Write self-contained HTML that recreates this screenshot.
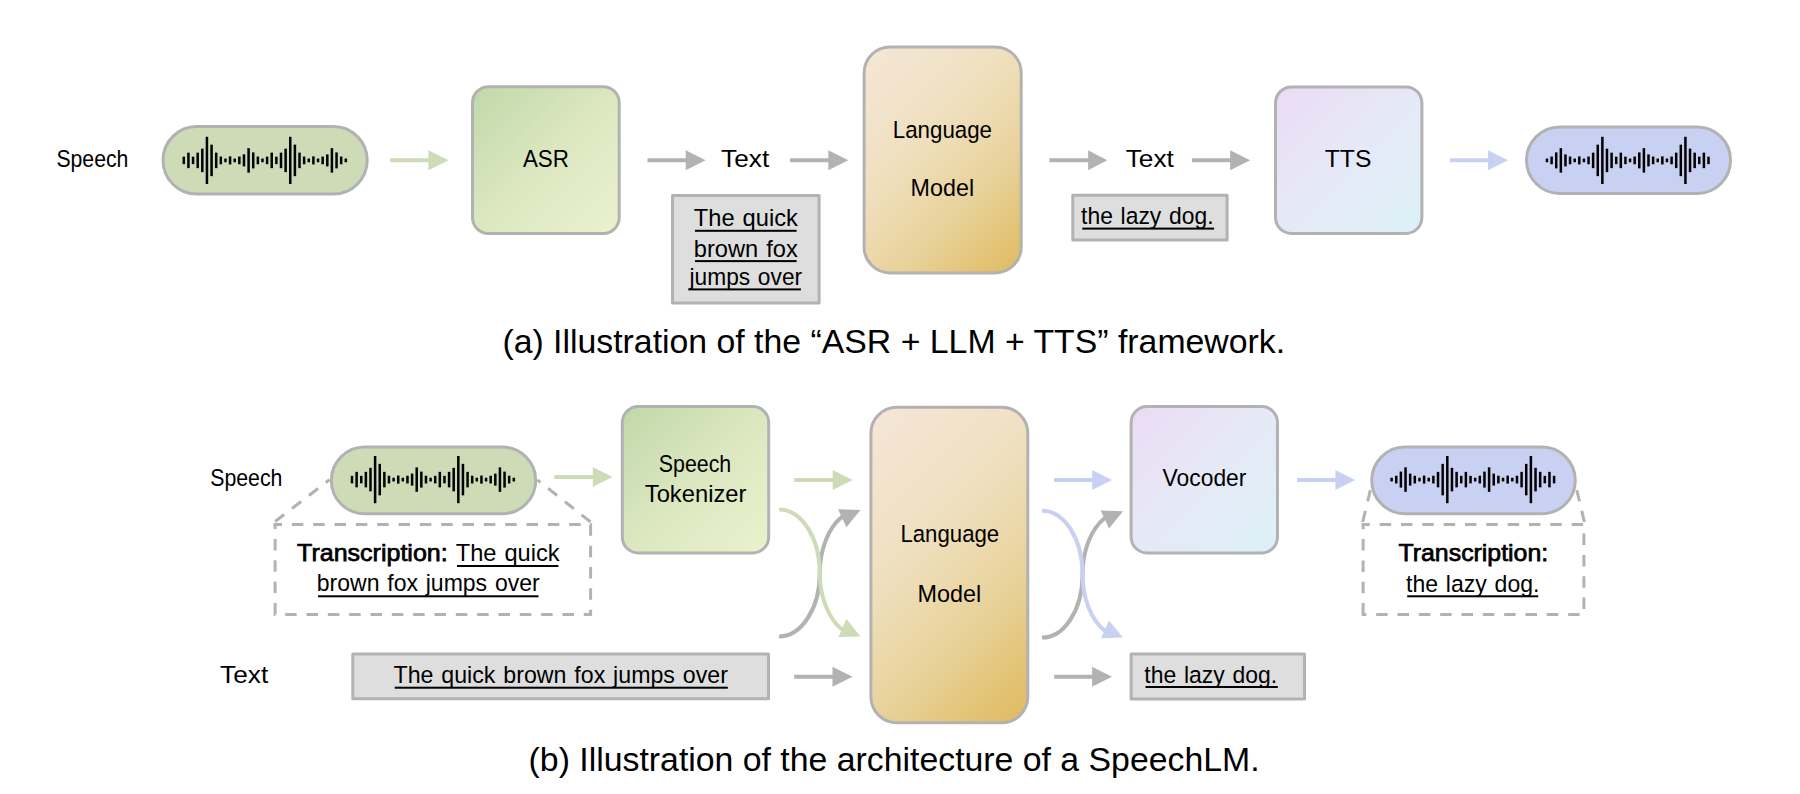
<!DOCTYPE html><html><head><meta charset="utf-8"><style>html,body{margin:0;padding:0;background:#fff;width:1800px;height:794px;overflow:hidden}svg{display:block}text{font-family:"Liberation Sans",sans-serif;fill:#000}</style></head><body>
<svg width="1800" height="794" viewBox="0 0 1800 794">
<text x="56.40" y="167.30" font-size="24.5" font-weight="normal" textLength="72.00" lengthAdjust="spacingAndGlyphs" word-spacing="1.5">Speech</text>
<rect x="163.00" y="126.50" width="204.20" height="67.60" rx="33.80" fill="#cddbb6" stroke="#b2b2b2" stroke-width="3.0"/>
<g fill="#000"><rect x="182.55" y="156.65" width="2.5" height="7.50"/><rect x="187.18" y="152.65" width="2.5" height="15.50"/><rect x="191.81" y="156.65" width="2.5" height="7.50"/><rect x="196.44" y="152.65" width="2.5" height="15.50"/><rect x="201.06" y="148.65" width="2.5" height="23.50"/><rect x="205.69" y="136.80" width="2.5" height="47.20"/><rect x="210.32" y="144.65" width="2.5" height="31.50"/><rect x="214.95" y="152.65" width="2.5" height="15.50"/><rect x="219.58" y="156.55" width="2.5" height="7.70"/><rect x="224.21" y="158.55" width="2.5" height="3.70"/><rect x="228.84" y="156.40" width="2.5" height="8.00"/><rect x="233.46" y="158.55" width="2.5" height="3.70"/><rect x="238.09" y="156.55" width="2.5" height="7.70"/><rect x="242.72" y="154.40" width="2.5" height="12.00"/><rect x="247.35" y="148.15" width="2.5" height="24.50"/><rect x="251.98" y="152.40" width="2.5" height="16.00"/><rect x="256.61" y="156.55" width="2.5" height="7.70"/><rect x="261.24" y="158.55" width="2.5" height="3.70"/><rect x="265.86" y="156.65" width="2.5" height="7.50"/><rect x="270.49" y="152.65" width="2.5" height="15.50"/><rect x="275.12" y="156.65" width="2.5" height="7.50"/><rect x="279.75" y="152.65" width="2.5" height="15.50"/><rect x="284.38" y="148.65" width="2.5" height="23.50"/><rect x="289.01" y="136.80" width="2.5" height="47.20"/><rect x="293.64" y="144.65" width="2.5" height="31.50"/><rect x="298.26" y="152.65" width="2.5" height="15.50"/><rect x="302.89" y="156.55" width="2.5" height="7.70"/><rect x="307.52" y="158.55" width="2.5" height="3.70"/><rect x="312.15" y="156.40" width="2.5" height="8.00"/><rect x="316.78" y="158.55" width="2.5" height="3.70"/><rect x="321.41" y="156.55" width="2.5" height="7.70"/><rect x="326.04" y="154.40" width="2.5" height="12.00"/><rect x="330.66" y="148.15" width="2.5" height="24.50"/><rect x="335.29" y="152.40" width="2.5" height="16.00"/><rect x="339.92" y="156.55" width="2.5" height="7.70"/><rect x="344.55" y="158.55" width="2.5" height="3.70"/></g>
<path d="M390.20 158.30H429.40V162.30H390.20Z" fill="#cddbb6"/><path d="M428.40 150.30L448.60 160.30L428.40 170.30Z" fill="#cddbb6"/>
<defs><linearGradient id="gG1" gradientUnits="userSpaceOnUse" x1="471.0" y1="85.2" x2="620.8" y2="235.0"><stop offset="0" stop-color="#bfd8a9"/><stop offset="0.5" stop-color="#dce7c0"/><stop offset="1" stop-color="#eaf2ce"/></linearGradient></defs>
<rect x="472.50" y="86.70" width="146.70" height="146.90" rx="16" fill="url(#gG1)" stroke="#b2b2b2" stroke-width="3.0" stroke-linejoin="round"/>
<text x="522.90" y="167.00" font-size="24.5" font-weight="normal" textLength="45.90" lengthAdjust="spacingAndGlyphs" word-spacing="1.5">ASR</text>
<path d="M647.50 158.30H686.70V162.30H647.50Z" fill="#b2b2b2"/><path d="M685.70 150.30L705.70 160.30L685.70 170.30Z" fill="#b2b2b2"/>
<text x="721.10" y="166.70" font-size="24.5" font-weight="normal" textLength="48.10" lengthAdjust="spacingAndGlyphs" word-spacing="1.5">Text</text>
<path d="M790.00 158.30H829.30V162.30H790.00Z" fill="#b2b2b2"/><path d="M828.30 150.30L848.30 160.30L828.30 170.30Z" fill="#b2b2b2"/>
<rect x="672.50" y="195.50" width="146.60" height="107.60" rx="0" fill="#dedede" stroke="#b2b2b2" stroke-width="3.0" stroke-linejoin="round"/>
<text x="693.80" y="226.20" font-size="24.5" font-weight="normal" textLength="104.00" lengthAdjust="spacingAndGlyphs" word-spacing="1.5">The quick</text>
<rect x="695.00" y="229.80" width="101.60" height="2.0" fill="#000"/>
<text x="693.80" y="256.60" font-size="24.5" font-weight="normal" textLength="104.00" lengthAdjust="spacingAndGlyphs" word-spacing="1.5">brown fox</text>
<rect x="695.00" y="260.10" width="101.60" height="2.0" fill="#000"/>
<text x="689.50" y="285.00" font-size="24.5" font-weight="normal" textLength="112.60" lengthAdjust="spacingAndGlyphs" word-spacing="1.5">jumps over</text>
<rect x="688.30" y="288.40" width="112.60" height="2.0" fill="#000"/>
<defs><linearGradient id="gL2" gradientUnits="userSpaceOnUse" x1="862.6" y1="45.4" x2="1057.2" y2="240.0"><stop offset="0" stop-color="#f4e8d6"/><stop offset="0.1" stop-color="#f3e5d2"/><stop offset="0.34" stop-color="#f0e1c3"/><stop offset="0.42" stop-color="#eedebb"/><stop offset="0.59" stop-color="#ebd6a5"/><stop offset="0.66" stop-color="#e8d39d"/><stop offset="0.9" stop-color="#e2c06e"/><stop offset="1" stop-color="#e0bb62"/></linearGradient></defs>
<rect x="864.10" y="46.90" width="157.10" height="226.00" rx="26" fill="url(#gL2)" stroke="#b2b2b2" stroke-width="3.0" stroke-linejoin="round"/>
<text x="892.80" y="138.30" font-size="24.5" font-weight="normal" textLength="99.20" lengthAdjust="spacingAndGlyphs" word-spacing="1.5">Language</text>
<text x="910.60" y="196.30" font-size="24.5" font-weight="normal" textLength="63.50" lengthAdjust="spacingAndGlyphs" word-spacing="1.5">Model</text>
<path d="M1049.40 158.30H1089.10V162.30H1049.40Z" fill="#b2b2b2"/><path d="M1088.10 150.30L1107.30 160.30L1088.10 170.30Z" fill="#b2b2b2"/>
<text x="1125.70" y="166.70" font-size="24.5" font-weight="normal" textLength="48.20" lengthAdjust="spacingAndGlyphs" word-spacing="1.5">Text</text>
<path d="M1191.90 158.30H1231.10V162.30H1191.90Z" fill="#b2b2b2"/><path d="M1230.10 150.30L1250.10 160.30L1230.10 170.30Z" fill="#b2b2b2"/>
<rect x="1072.80" y="195.30" width="154.30" height="44.70" rx="0" fill="#dedede" stroke="#b2b2b2" stroke-width="3.0" stroke-linejoin="round"/>
<text x="1081.10" y="223.70" font-size="24.5" font-weight="normal" textLength="132.40" lengthAdjust="spacingAndGlyphs" word-spacing="1.5">the lazy dog.</text>
<rect x="1082.30" y="227.60" width="131.80" height="2.0" fill="#000"/>
<defs><linearGradient id="gT3" gradientUnits="userSpaceOnUse" x1="1274.0" y1="85.4" x2="1423.5" y2="234.9"><stop offset="0" stop-color="#ebdbf4"/><stop offset="0.5" stop-color="#e6e9f7"/><stop offset="1" stop-color="#dbf1f8"/></linearGradient></defs>
<rect x="1275.50" y="86.90" width="146.40" height="146.50" rx="16" fill="url(#gT3)" stroke="#b2b2b2" stroke-width="3.0" stroke-linejoin="round"/>
<text x="1324.80" y="167.10" font-size="24.5" font-weight="normal" textLength="46.60" lengthAdjust="spacingAndGlyphs" word-spacing="1.5">TTS</text>
<path d="M1450.00 158.30H1489.00V162.30H1450.00Z" fill="#c9d1f3"/><path d="M1488.00 150.30L1508.00 160.30L1488.00 170.30Z" fill="#c9d1f3"/>
<rect x="1526.50" y="126.90" width="204.00" height="66.60" rx="33.30" fill="#c9d1f3" stroke="#b2b2b2" stroke-width="3.0"/>
<g fill="#000"><rect x="1545.75" y="158.55" width="2.5" height="3.70"/><rect x="1550.36" y="156.55" width="2.5" height="7.70"/><rect x="1554.98" y="152.40" width="2.5" height="16.00"/><rect x="1559.59" y="148.15" width="2.5" height="24.50"/><rect x="1564.21" y="154.40" width="2.5" height="12.00"/><rect x="1568.82" y="156.55" width="2.5" height="7.70"/><rect x="1573.44" y="158.55" width="2.5" height="3.70"/><rect x="1578.05" y="156.40" width="2.5" height="8.00"/><rect x="1582.66" y="158.55" width="2.5" height="3.70"/><rect x="1587.28" y="156.55" width="2.5" height="7.70"/><rect x="1591.89" y="152.65" width="2.5" height="15.50"/><rect x="1596.51" y="144.65" width="2.5" height="31.50"/><rect x="1601.12" y="136.80" width="2.5" height="47.20"/><rect x="1605.74" y="148.65" width="2.5" height="23.50"/><rect x="1610.35" y="152.65" width="2.5" height="15.50"/><rect x="1614.96" y="156.65" width="2.5" height="7.50"/><rect x="1619.58" y="152.65" width="2.5" height="15.50"/><rect x="1624.19" y="156.65" width="2.5" height="7.50"/><rect x="1628.81" y="158.55" width="2.5" height="3.70"/><rect x="1633.42" y="156.55" width="2.5" height="7.70"/><rect x="1638.04" y="152.40" width="2.5" height="16.00"/><rect x="1642.65" y="148.15" width="2.5" height="24.50"/><rect x="1647.26" y="154.40" width="2.5" height="12.00"/><rect x="1651.88" y="156.55" width="2.5" height="7.70"/><rect x="1656.49" y="158.55" width="2.5" height="3.70"/><rect x="1661.11" y="156.40" width="2.5" height="8.00"/><rect x="1665.72" y="158.55" width="2.5" height="3.70"/><rect x="1670.34" y="156.55" width="2.5" height="7.70"/><rect x="1674.95" y="152.65" width="2.5" height="15.50"/><rect x="1679.56" y="144.65" width="2.5" height="31.50"/><rect x="1684.18" y="136.80" width="2.5" height="47.20"/><rect x="1688.79" y="148.65" width="2.5" height="23.50"/><rect x="1693.41" y="152.65" width="2.5" height="15.50"/><rect x="1698.02" y="156.65" width="2.5" height="7.50"/><rect x="1702.64" y="152.65" width="2.5" height="15.50"/><rect x="1707.25" y="156.65" width="2.5" height="7.50"/></g>
<text x="502.4" y="352.8" font-size="34" textLength="782.7" lengthAdjust="spacingAndGlyphs">(a) Illustration of the “ASR + LLM + TTS” framework.</text>
<text x="210.20" y="485.90" font-size="24.5" font-weight="normal" textLength="72.20" lengthAdjust="spacingAndGlyphs" word-spacing="1.5">Speech</text>
<g fill="none" stroke="#b2b2b2" stroke-width="3" stroke-dasharray="11.5 9.83"><path d="M275.1 521.5L329.5 479.7"/><path d="M590.6 522L537.5 480"/><path d="M275.1 614.4V524.5H590.6V614.4Z"/><path d="M1362.7 522L1370.6 489"/><path d="M1584.4 522L1576.6 489"/><path d="M1363.1 614.6V524.5H1583.9V614.6Z"/></g>
<rect x="331.30" y="447.10" width="204.40" height="66.60" rx="33.30" fill="#cddbb6" stroke="#b2b2b2" stroke-width="3.0"/>
<g fill="#000"><rect x="350.75" y="475.85" width="2.5" height="7.50"/><rect x="355.37" y="471.85" width="2.5" height="15.50"/><rect x="360.00" y="475.85" width="2.5" height="7.50"/><rect x="364.62" y="471.85" width="2.5" height="15.50"/><rect x="369.24" y="467.85" width="2.5" height="23.50"/><rect x="373.86" y="456.00" width="2.5" height="47.20"/><rect x="378.49" y="463.85" width="2.5" height="31.50"/><rect x="383.11" y="471.85" width="2.5" height="15.50"/><rect x="387.73" y="475.75" width="2.5" height="7.70"/><rect x="392.36" y="477.75" width="2.5" height="3.70"/><rect x="396.98" y="475.60" width="2.5" height="8.00"/><rect x="401.60" y="477.75" width="2.5" height="3.70"/><rect x="406.22" y="475.75" width="2.5" height="7.70"/><rect x="410.85" y="473.60" width="2.5" height="12.00"/><rect x="415.47" y="467.35" width="2.5" height="24.50"/><rect x="420.09" y="471.60" width="2.5" height="16.00"/><rect x="424.72" y="475.75" width="2.5" height="7.70"/><rect x="429.34" y="477.75" width="2.5" height="3.70"/><rect x="433.96" y="475.85" width="2.5" height="7.50"/><rect x="438.58" y="471.85" width="2.5" height="15.50"/><rect x="443.21" y="475.85" width="2.5" height="7.50"/><rect x="447.83" y="471.85" width="2.5" height="15.50"/><rect x="452.45" y="467.85" width="2.5" height="23.50"/><rect x="457.08" y="456.00" width="2.5" height="47.20"/><rect x="461.70" y="463.85" width="2.5" height="31.50"/><rect x="466.32" y="471.85" width="2.5" height="15.50"/><rect x="470.94" y="475.75" width="2.5" height="7.70"/><rect x="475.57" y="477.75" width="2.5" height="3.70"/><rect x="480.19" y="475.60" width="2.5" height="8.00"/><rect x="484.81" y="477.75" width="2.5" height="3.70"/><rect x="489.44" y="475.75" width="2.5" height="7.70"/><rect x="494.06" y="473.60" width="2.5" height="12.00"/><rect x="498.68" y="467.35" width="2.5" height="24.50"/><rect x="503.30" y="471.60" width="2.5" height="16.00"/><rect x="507.93" y="475.75" width="2.5" height="7.70"/><rect x="512.55" y="477.75" width="2.5" height="3.70"/></g>
<path d="M554.40 475.00H593.80V479.00H554.40Z" fill="#cddbb6"/><path d="M592.80 467.00L612.40 477.00L592.80 487.00Z" fill="#cddbb6"/>
<defs><linearGradient id="gG4" gradientUnits="userSpaceOnUse" x1="620.8" y1="405.1" x2="770.2" y2="554.5"><stop offset="0" stop-color="#bfd8a9"/><stop offset="0.5" stop-color="#dce7c0"/><stop offset="1" stop-color="#eaf2ce"/></linearGradient></defs>
<rect x="622.30" y="406.60" width="146.40" height="146.40" rx="16" fill="url(#gG4)" stroke="#b2b2b2" stroke-width="3.0" stroke-linejoin="round"/>
<text x="658.80" y="471.60" font-size="24.5" font-weight="normal" textLength="72.40" lengthAdjust="spacingAndGlyphs" word-spacing="1.5">Speech</text>
<text x="644.80" y="501.60" font-size="24.5" font-weight="normal" textLength="101.60" lengthAdjust="spacingAndGlyphs" word-spacing="1.5">Tokenizer</text>
<path d="M794.20 478.00H833.70V482.00H794.20Z" fill="#cddbb6"/><path d="M832.70 470.00L852.60 480.00L832.70 490.00Z" fill="#cddbb6"/>
<defs><linearGradient id="gL5" gradientUnits="userSpaceOnUse" x1="869.4" y1="405.7" x2="1108.6" y2="644.9"><stop offset="0" stop-color="#f4e8d6"/><stop offset="0.1" stop-color="#f3e5d2"/><stop offset="0.34" stop-color="#f0e1c3"/><stop offset="0.42" stop-color="#eedebb"/><stop offset="0.59" stop-color="#ebd6a5"/><stop offset="0.66" stop-color="#e8d39d"/><stop offset="0.9" stop-color="#e2c06e"/><stop offset="1" stop-color="#e0bb62"/></linearGradient></defs>
<rect x="870.90" y="407.20" width="156.90" height="315.50" rx="26" fill="url(#gL5)" stroke="#b2b2b2" stroke-width="3.0" stroke-linejoin="round"/>
<text x="900.40" y="542.00" font-size="24.5" font-weight="normal" textLength="98.80" lengthAdjust="spacingAndGlyphs" word-spacing="1.5">Language</text>
<text x="917.50" y="601.60" font-size="24.5" font-weight="normal" textLength="63.70" lengthAdjust="spacingAndGlyphs" word-spacing="1.5">Model</text>
<path d="M1054.00 478.00H1093.10V482.00H1054.00Z" fill="#c9d1f3"/><path d="M1092.10 470.00L1112.00 480.00L1092.10 490.00Z" fill="#c9d1f3"/>
<defs><linearGradient id="gT6" gradientUnits="userSpaceOnUse" x1="1129.6" y1="405.1" x2="1279.0" y2="554.5"><stop offset="0" stop-color="#ebdbf4"/><stop offset="0.5" stop-color="#e6e9f7"/><stop offset="1" stop-color="#dbf1f8"/></linearGradient></defs>
<rect x="1131.10" y="406.60" width="146.40" height="146.40" rx="16" fill="url(#gT6)" stroke="#b2b2b2" stroke-width="3.0" stroke-linejoin="round"/>
<text x="1162.60" y="486.40" font-size="24.5" font-weight="normal" textLength="83.80" lengthAdjust="spacingAndGlyphs" word-spacing="1.5">Vocoder</text>
<path d="M1297.10 478.00H1336.40V482.00H1297.10Z" fill="#c9d1f3"/><path d="M1335.40 470.00L1355.10 480.00L1335.40 490.00Z" fill="#c9d1f3"/>
<rect x="1371.70" y="447.10" width="203.60" height="66.60" rx="33.30" fill="#c9d1f3" stroke="#b2b2b2" stroke-width="3.0"/>
<g fill="#000"><rect x="1390.35" y="477.75" width="2.5" height="3.70"/><rect x="1394.99" y="475.75" width="2.5" height="7.70"/><rect x="1399.64" y="471.60" width="2.5" height="16.00"/><rect x="1404.28" y="467.35" width="2.5" height="24.50"/><rect x="1408.92" y="473.60" width="2.5" height="12.00"/><rect x="1413.56" y="475.75" width="2.5" height="7.70"/><rect x="1418.21" y="477.75" width="2.5" height="3.70"/><rect x="1422.85" y="475.60" width="2.5" height="8.00"/><rect x="1427.49" y="477.75" width="2.5" height="3.70"/><rect x="1432.14" y="475.75" width="2.5" height="7.70"/><rect x="1436.78" y="471.85" width="2.5" height="15.50"/><rect x="1441.42" y="463.85" width="2.5" height="31.50"/><rect x="1446.06" y="456.00" width="2.5" height="47.20"/><rect x="1450.71" y="467.85" width="2.5" height="23.50"/><rect x="1455.35" y="471.85" width="2.5" height="15.50"/><rect x="1459.99" y="475.85" width="2.5" height="7.50"/><rect x="1464.64" y="471.85" width="2.5" height="15.50"/><rect x="1469.28" y="475.85" width="2.5" height="7.50"/><rect x="1473.92" y="477.75" width="2.5" height="3.70"/><rect x="1478.56" y="475.75" width="2.5" height="7.70"/><rect x="1483.21" y="471.60" width="2.5" height="16.00"/><rect x="1487.85" y="467.35" width="2.5" height="24.50"/><rect x="1492.49" y="473.60" width="2.5" height="12.00"/><rect x="1497.14" y="475.75" width="2.5" height="7.70"/><rect x="1501.78" y="477.75" width="2.5" height="3.70"/><rect x="1506.42" y="475.60" width="2.5" height="8.00"/><rect x="1511.06" y="477.75" width="2.5" height="3.70"/><rect x="1515.71" y="475.75" width="2.5" height="7.70"/><rect x="1520.35" y="471.85" width="2.5" height="15.50"/><rect x="1524.99" y="463.85" width="2.5" height="31.50"/><rect x="1529.64" y="456.00" width="2.5" height="47.20"/><rect x="1534.28" y="467.85" width="2.5" height="23.50"/><rect x="1538.92" y="471.85" width="2.5" height="15.50"/><rect x="1543.56" y="475.85" width="2.5" height="7.50"/><rect x="1548.21" y="471.85" width="2.5" height="15.50"/><rect x="1552.85" y="475.85" width="2.5" height="7.50"/></g>
<text x="297.10" y="560.50" font-size="24.5" font-weight="normal" stroke="#000" stroke-width="0.75" textLength="150.60" lengthAdjust="spacingAndGlyphs" word-spacing="1.5">Transcription:</text>
<text x="455.80" y="560.50" font-size="24.5" font-weight="normal" textLength="103.80" lengthAdjust="spacingAndGlyphs" word-spacing="1.5">The quick</text>
<rect x="457.00" y="565.00" width="101.40" height="2.0" fill="#000"/>
<text x="316.80" y="591.20" font-size="24.5" font-weight="normal" textLength="222.90" lengthAdjust="spacingAndGlyphs" word-spacing="1.5">brown fox jumps over</text>
<rect x="318.00" y="595.30" width="220.50" height="2.0" fill="#000"/>
<text x="1398.50" y="560.50" font-size="24.5" font-weight="normal" stroke="#000" stroke-width="0.75" textLength="149.70" lengthAdjust="spacingAndGlyphs" word-spacing="1.5">Transcription:</text>
<text x="1406.00" y="591.80" font-size="24.5" font-weight="normal" textLength="133.40" lengthAdjust="spacingAndGlyphs" word-spacing="1.5">the lazy dog.</text>
<rect x="1407.20" y="595.30" width="131.00" height="2.0" fill="#000"/>
<path d="M779.10 636.40A40.70 63.25 0 0 0 819.80 573.15A40.70 63.25 0 0 1 842.25 516.62" fill="none" stroke="#b2b2b2" stroke-width="4"/><path d="M838.1 509.2L860.5 509.9L846.4 527.2Z" fill="#b2b2b2"/>
<path d="M779.10 509.50A40.70 63.45 0 0 1 819.80 572.95A40.70 63.45 0 0 0 842.40 629.78" fill="none" stroke="#cddbb6" stroke-width="4"/><path d="M838.4 637.0L860.5 636.4L846.4 619.1Z" fill="#cddbb6"/>
<path d="M1042.00 637.60A40.55 63.20 0 0 0 1082.55 574.40A40.55 63.20 0 0 1 1104.85 517.96" fill="none" stroke="#b2b2b2" stroke-width="4"/><path d="M1100.7 510.5L1123.1 511.2L1109.0 528.5Z" fill="#b2b2b2"/>
<path d="M1042.00 510.80A40.55 63.40 0 0 1 1082.55 574.20A40.55 63.40 0 0 0 1105.00 630.93" fill="none" stroke="#c9d1f3" stroke-width="4"/><path d="M1101.0 638.3L1123.1 637.6L1109.0 620.4Z" fill="#c9d1f3"/>
<text x="220.10" y="683.00" font-size="24.5" font-weight="normal" textLength="48.10" lengthAdjust="spacingAndGlyphs" word-spacing="1.5">Text</text>
<rect x="352.80" y="654.00" width="415.70" height="44.80" rx="0" fill="#dedede" stroke="#b2b2b2" stroke-width="3.0" stroke-linejoin="round"/>
<text x="393.50" y="683.00" font-size="24.5" font-weight="normal" textLength="334.40" lengthAdjust="spacingAndGlyphs" word-spacing="1.5">The quick brown fox jumps over</text>
<rect x="394.70" y="686.70" width="333.10" height="2.0" fill="#000"/>
<path d="M794.20 674.70H833.50V678.70H794.20Z" fill="#b2b2b2"/><path d="M832.50 666.70L852.50 676.70L832.50 686.70Z" fill="#b2b2b2"/>
<path d="M1054.20 674.70H1093.10V678.70H1054.20Z" fill="#b2b2b2"/><path d="M1092.10 666.70L1112.00 676.70L1092.10 686.70Z" fill="#b2b2b2"/>
<rect x="1131.10" y="654.10" width="173.40" height="44.90" rx="0" fill="#dedede" stroke="#b2b2b2" stroke-width="3.0" stroke-linejoin="round"/>
<text x="1144.30" y="682.90" font-size="24.5" font-weight="normal" textLength="132.90" lengthAdjust="spacingAndGlyphs" word-spacing="1.5">the lazy dog.</text>
<rect x="1145.50" y="686.00" width="132.30" height="2.0" fill="#000"/>
<text x="528.6" y="770.8" font-size="34" textLength="731.0" lengthAdjust="spacingAndGlyphs">(b) Illustration of the architecture of a SpeechLM.</text>
</svg></body></html>
